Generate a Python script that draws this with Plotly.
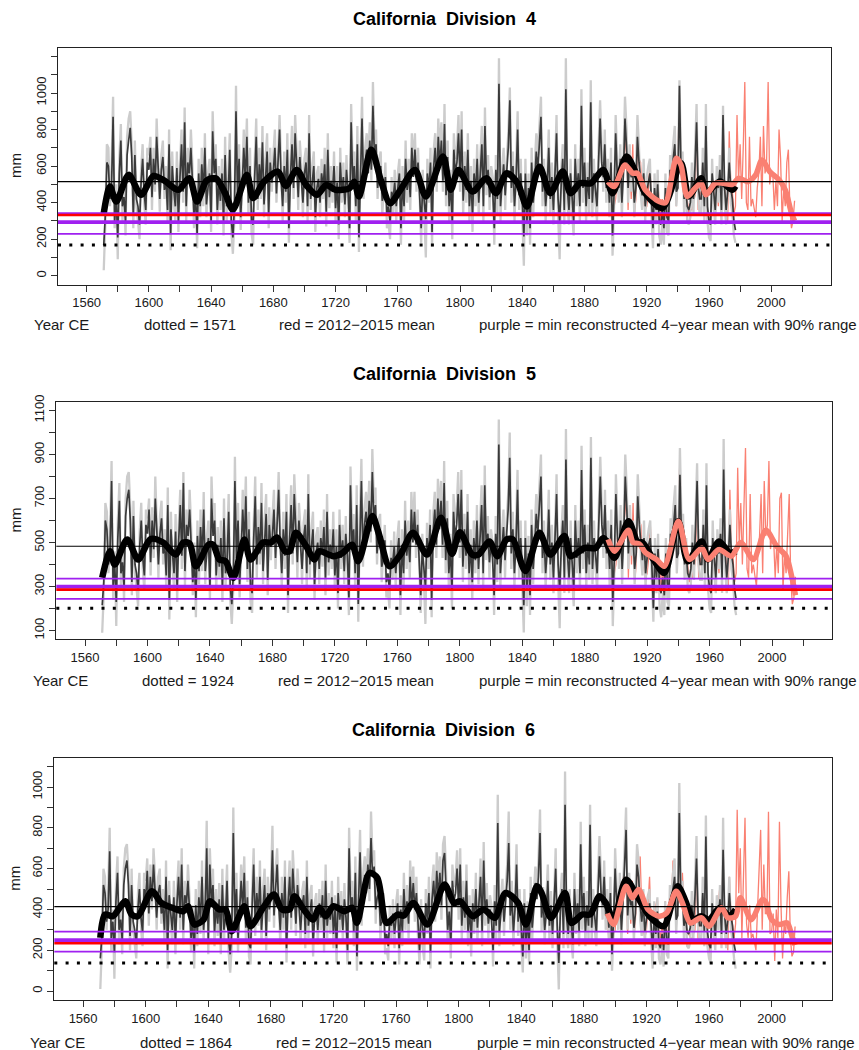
import plotly.graph_objects as go

W, H = 859, 1050

# ---------------------------------------------------------------- years
RECON_YEARS = list(range(1571, 1978))   # tree-ring reconstruction
INSTR_YEARS = list(range(1895, 2016))   # instrumental record

# ---------------------------------------------------------------- Division 4
div4_recon = [
    168, 330, 620, 600, 420, 480, 870, 300, 420, 210,
    560, 740, 380, 430, 300, 660, 740, 810, 650, 330,
    660, 420, 380, 280, 510, 640, 450, 360, 620, 580,
    700, 430, 640, 500, 760, 560, 420, 580, 650, 470,
    520, 360, 720, 230, 600, 470, 380, 590, 300, 540,
    720, 460, 840, 380, 620, 560, 700, 520, 330, 440,
    230, 560, 380, 610, 450, 700, 390, 480, 560, 300,
    790, 560, 640, 360, 520, 410, 560, 300, 660, 380,
    450, 690, 300, 210, 380, 900, 450, 640, 320, 500,
    700, 520, 760, 400, 600, 300, 280, 540, 760, 420,
    610, 480, 730, 390, 560, 680, 340, 620, 510, 570,
    700, 450, 620, 800, 520, 380, 600, 460, 690, 260,
    540, 720, 480, 780, 600, 430, 650, 520, 400, 560,
    620, 380, 780, 420, 520, 600, 320, 480, 530, 400,
    560, 480, 610, 350, 690, 430, 520, 460, 600, 370,
    510, 280, 620, 460, 540, 390, 580, 470, 260, 840,
    520, 600, 380, 720, 210, 560, 860, 480, 620, 690,
    560, 740, 580, 930, 640, 720, 480, 560, 600, 410,
    450, 540, 330, 380, 290, 460, 420, 510, 380, 480,
    560, 260, 520, 380, 640, 470, 560, 430, 700, 540,
    690, 520, 620, 440, 260, 500, 380, 310, 560, 470,
    620, 240, 590, 700, 520, 760, 600, 740, 520, 830,
    440, 650, 380, 500, 290, 690, 560, 620, 780, 540,
    800, 410, 600, 470, 690, 380, 520, 330, 560, 450,
    640, 400, 560, 720, 380, 820, 500, 580, 430, 520,
    460, 260, 580, 420, 1050, 380, 500, 610, 440, 560,
    700, 960, 480, 600, 380, 520, 800, 440, 560, 410,
    215, 560, 300, 480, 260, 620, 400, 520, 680, 580,
    720, 870, 460, 560, 380, 490, 700, 420, 540, 360,
    560, 780, 420, 300, 500, 640, 360, 1020, 470, 360,
    560, 420, 300, 640, 460, 560, 380, 930, 480, 620,
    380, 540, 420, 950, 400, 560, 480, 380, 620, 860,
    620, 540, 720, 480, 560, 400, 620, 220, 460, 780,
    560, 480, 640, 400, 560, 860, 700, 480, 640, 540,
    560, 400, 480, 760, 620, 540, 440, 560, 380, 460,
    520, 560, 420, 260, 480, 360, 500, 300, 280, 360,
    260, 480, 320, 300, 580, 520, 640, 720, 460, 480,
    1040, 560, 600, 420, 480, 380, 360, 400, 540, 420,
    600, 840, 500, 420, 420, 620, 380, 820, 380, 300,
    280, 560, 460, 360, 520, 480, 580, 360, 880, 480,
    360, 460, 620, 480, 420, 300, 250,
]
div4_recon_alt = [
    30, 280, 720, 700, 380, 580, 980, 260, 500, 90,
    640, 830, 300, 520, 220, 760, 860, 900, 720, 260,
    740, 380, 300, 200, 580, 720, 400, 280, 700, 660,
    760, 360, 700, 460, 860, 640, 350, 660, 740, 420,
    600, 300, 800, 140, 680, 420, 300, 680, 240, 620,
    800, 400, 920, 300, 700, 500, 800, 600, 260, 520,
    150, 640, 320, 700, 380, 780, 320, 560, 640, 240,
    900, 620, 720, 280, 600, 360, 640, 220, 760, 300,
    520, 780, 240, 120, 320, 1040, 400, 720, 250, 580,
    800, 600, 860, 330, 700, 230, 170, 620, 860, 360,
    700, 420, 820, 320, 640, 780, 260, 700, 460, 660,
    800, 400, 700, 880, 600, 300, 680, 400, 780, 180,
    620, 820, 420, 880, 680, 360, 740, 600, 320, 640,
    700, 300, 880, 360, 600, 680, 240, 560, 600, 320,
    640, 420, 700, 270, 780, 370, 600, 400, 680, 290,
    600, 200, 700, 400, 620, 320, 660, 420, 180, 940,
    600, 680, 300, 820, 130, 640, 980, 420, 700, 780,
    640, 840, 520, 1060, 720, 800, 420, 640, 680, 330,
    520, 620, 260, 300, 200, 540, 340, 580, 300, 560,
    640, 170, 600, 300, 740, 400, 640, 360, 780, 620,
    780, 460, 700, 360, 180, 580, 300, 100, 640, 400,
    700, 160, 680, 780, 460, 860, 680, 840, 460, 940,
    380, 740, 300, 580, 200, 780, 640, 700, 880, 460,
    900, 330, 680, 400, 780, 300, 600, 240, 640, 380,
    720, 330, 640, 820, 300, 920, 440, 660, 360, 600,
    540, 170, 660, 340, 1190, 300, 580, 700, 360, 640,
    780, 1030, 400, 680, 300, 600, 900, 360, 640, 330,
    55, 640, 220, 560, 170, 700, 320, 600, 780, 660,
    800, 980, 380, 640, 300, 560, 800, 340, 620, 280,
    640, 880, 340, 90, 580, 720, 280, 1190, 400, 280,
    640, 340, 220, 720, 380, 640, 300, 1020, 400, 700,
    300, 620, 340, 1070, 320, 640, 400, 300, 700, 960,
    700, 460, 800, 400, 640, 320, 700, 110, 380, 880,
    640, 400, 720, 320, 640, 980, 800, 400, 720, 460,
    640, 320, 560, 880, 700, 460, 360, 640, 300, 540,
    600, 640, 340, 150, 560, 280, 580, 220, 170, 280,
    170, 560, 240, 220, 660, 600, 720, 820, 380, 560,
    1070, 640, 680, 340, 560, 300, 280, 320, 620, 340,
    680, 940, 420, 340, 340, 700, 300, 940, 300, 210,
    190, 640, 380, 280, 600, 400, 660, 280, 930, 400,
    280, 540, 700, 400, 340, 220, 180,
]
div4_instr = [
    560, 380, 600, 260, 380, 420,
    560, 430, 480, 500, 620, 700, 760, 360, 680, 420,
    720, 340, 420, 700, 640, 620, 440, 400, 360, 380,
    460, 620, 400, 240, 440, 460, 520, 380, 300, 420,
    280, 480, 330, 360, 520, 500, 700, 760, 380, 640,
    1000, 600, 560, 500, 460, 420, 340, 360, 360, 400,
    440, 800, 360, 460, 430, 640, 400, 780, 300, 320,
    280, 540, 480, 330, 520, 380, 620, 360, 860, 480,
    420, 300, 790, 500, 460, 340, 380, 880, 520, 720,
    420, 700, 1060, 400, 360, 760, 380, 420, 360, 320,
    480, 560, 760, 380, 820, 560, 620, 1060, 500, 560,
    560, 360, 520, 380, 800, 640, 300, 480, 380, 620,
    690, 360, 260, 300, 410,
]
div4_smooth_years = [
    1571, 1575, 1579, 1587, 1595, 1603, 1610, 1619, 1626, 1631, 1637, 1643,
    1649, 1654, 1663, 1667, 1674, 1683, 1688, 1695, 1701, 1708, 1714, 1720,
    1729, 1732, 1735, 1743, 1749, 1755, 1761, 1771, 1778, 1789, 1794, 1799,
    1808, 1817, 1823, 1830, 1837, 1843, 1851, 1858, 1866, 1871, 1877, 1884,
    1892, 1898, 1907, 1914, 1919, 1930, 1942, 1947, 1955, 1958, 1967, 1975,
    1977,
]
div4_smooth_vals = [
    342, 488, 406, 552, 443, 546, 520, 470, 534, 406, 520, 534,
    452, 361, 552, 425, 515, 570, 492, 579, 497, 443, 497, 470,
    479, 515, 434, 689, 525, 397, 461, 579, 434, 652, 470, 579,
    461, 534, 452, 561, 506, 379, 597, 452, 570, 452, 506, 506,
    579, 452, 652, 543, 452, 370, 616, 434, 534, 452, 516, 470,
    490,
]
div4_instr_smooth_years = [
    1895, 1899, 1906, 1911, 1914, 1919, 1928, 1932, 1939, 1942, 1946, 1951,
    1955, 1958, 1964, 1969, 1975, 1979, 1985, 1990, 1994, 1999, 2005, 2009,
    2013, 2015,
]
div4_instr_smooth_vals = [
    515, 488, 606, 561, 561, 470, 406, 400, 643, 606, 434, 479,
    506, 443, 506, 506, 500, 534, 515, 552, 634, 570, 525, 470,
    342, 300,
]
div4_mean = 515
div4_purple = 293
div4_purple_lo = 229
div4_purple_hi = 343

# ---------------------------------------------------------------- Division 5
div5_recon = [
    215, 320, 600, 560, 400, 460, 780, 300, 400, 230,
    520, 690, 360, 410, 300, 620, 700, 740, 600, 320,
    620, 400, 360, 280, 480, 600, 430, 350, 580, 540,
    650, 410, 600, 470, 700, 530, 400, 540, 610, 450,
    490, 350, 670, 240, 560, 450, 360, 550, 290, 510,
    670, 440, 770, 370, 580, 530, 650, 490, 320, 420,
    240, 530, 370, 570, 430, 650, 370, 450, 520, 300,
    700, 530, 600, 350, 490, 390, 520, 300, 610, 360,
    430, 640, 300, 220, 360, 780, 430, 600, 310, 470,
    650, 490, 710, 380, 560, 300, 270, 510, 710, 400,
    570, 450, 680, 370, 530, 630, 330, 580, 480, 530,
    650, 430, 580, 740, 490, 360, 560, 440, 640, 260,
    510, 670, 450, 720, 560, 410, 600, 490, 380, 520,
    580, 360, 720, 400, 490, 560, 310, 450, 500, 380,
    520, 450, 570, 340, 640, 410, 490, 440, 560, 350,
    480, 270, 580, 430, 510, 370, 540, 440, 250, 760,
    490, 560, 360, 670, 220, 530, 780, 450, 580, 640,
    530, 690, 550, 820, 600, 670, 450, 530, 560, 390,
    420, 510, 320, 360, 280, 430, 400, 480, 360, 450,
    520, 260, 490, 360, 600, 440, 520, 410, 650, 500,
    640, 490, 580, 420, 260, 470, 360, 300, 520, 440,
    580, 240, 550, 650, 490, 700, 560, 690, 490, 770,
    420, 610, 360, 470, 280, 640, 520, 580, 720, 500,
    740, 390, 560, 440, 640, 360, 490, 320, 520, 420,
    600, 380, 520, 670, 360, 760, 470, 540, 410, 490,
    430, 260, 540, 400, 945, 360, 470, 570, 420, 520,
    650, 885, 450, 560, 360, 490, 740, 420, 520, 390,
    215, 520, 290, 450, 260, 580, 380, 490, 630, 540,
    670, 800, 430, 520, 360, 460, 650, 400, 500, 340,
    520, 720, 400, 290, 470, 600, 340, 877, 440, 340,
    520, 400, 290, 600, 430, 520, 360, 830, 450, 580,
    360, 500, 400, 885, 380, 520, 450, 360, 580, 800,
    580, 500, 670, 450, 520, 380, 580, 230, 430, 720,
    520, 450, 600, 380, 520, 800, 650, 450, 600, 500,
    520, 380, 450, 710, 580, 500, 420, 520, 360, 430,
    490, 520, 400, 201, 450, 340, 470, 290, 270, 340,
    260, 450, 310, 290, 540, 490, 600, 670, 430, 450,
    808, 520, 560, 400, 450, 360, 340, 380, 500, 400,
    560, 780, 470, 400, 400, 580, 360, 760, 360, 290,
    270, 520, 430, 340, 490, 450, 540, 340, 832, 450,
    340, 430, 580, 450, 400, 290, 240,
]
div5_recon_alt = [
    90, 270, 680, 640, 360, 540, 870, 240, 460, 120,
    600, 770, 290, 490, 230, 700, 800, 820, 660, 260,
    690, 360, 290, 210, 550, 680, 380, 280, 650, 610,
    700, 350, 660, 430, 800, 600, 340, 620, 690, 400,
    560, 290, 750, 150, 640, 400, 290, 630, 230, 580,
    740, 380, 820, 300, 650, 480, 740, 560, 260, 500,
    160, 600, 310, 650, 370, 730, 310, 520, 600, 240,
    800, 590, 680, 280, 570, 340, 600, 230, 700, 290,
    500, 720, 240, 130, 300, 890, 380, 680, 250, 550,
    740, 560, 800, 320, 640, 230, 180, 580, 800, 340,
    650, 400, 770, 310, 600, 720, 260, 660, 420, 610,
    740, 380, 660, 820, 560, 290, 640, 380, 720, 180,
    580, 760, 400, 810, 640, 340, 680, 560, 310, 590,
    650, 290, 810, 340, 560, 640, 240, 530, 570, 310,
    600, 390, 650, 260, 720, 350, 560, 380, 640, 280,
    560, 200, 650, 380, 580, 310, 620, 390, 170, 845,
    560, 630, 290, 760, 140, 600, 880, 390, 650, 730,
    600, 780, 500, 925, 680, 750, 400, 600, 630, 320,
    490, 580, 250, 290, 200, 510, 330, 550, 290, 520,
    600, 170, 560, 290, 690, 380, 600, 340, 730, 570,
    730, 430, 650, 350, 180, 540, 290, 130, 590, 380,
    650, 160, 630, 730, 430, 790, 630, 780, 430, 870,
    360, 690, 290, 540, 200, 720, 590, 650, 820, 430,
    830, 320, 630, 380, 720, 290, 560, 240, 600, 360,
    670, 310, 600, 760, 290, 850, 420, 620, 340, 560,
    500, 170, 620, 320, 1059, 290, 540, 650, 340, 600,
    720, 1000, 380, 640, 290, 560, 830, 340, 600, 310,
    91, 600, 210, 530, 170, 650, 310, 560, 720, 610,
    740, 900, 360, 600, 290, 530, 740, 330, 580, 270,
    600, 810, 330, 110, 540, 670, 270, 1016, 380, 270,
    600, 330, 210, 670, 360, 600, 290, 940, 380, 650,
    290, 580, 330, 980, 310, 600, 380, 290, 650, 890,
    650, 430, 740, 380, 600, 300, 650, 120, 360, 810,
    600, 380, 670, 310, 600, 900, 740, 380, 670, 440,
    600, 310, 530, 810, 650, 440, 350, 600, 290, 510,
    560, 600, 330, 140, 520, 270, 540, 210, 160, 270,
    170, 520, 230, 210, 610, 560, 670, 760, 360, 530,
    930, 600, 630, 330, 520, 290, 270, 310, 580, 330,
    630, 860, 400, 330, 330, 650, 290, 860, 290, 200,
    180, 600, 360, 270, 560, 380, 610, 270, 970, 380,
    270, 510, 650, 380, 330, 210, 170,
]
div5_instr = [
    520, 360, 560, 250, 360, 400,
    520, 410, 450, 470, 580, 660, 720, 340, 640, 400,
    680, 320, 400, 660, 600, 580, 420, 380, 340, 360,
    430, 590, 380, 220, 420, 430, 490, 360, 290, 400,
    270, 450, 310, 340, 490, 470, 660, 720, 360, 600,
    900, 570, 530, 470, 430, 400, 320, 340, 340, 380,
    420, 760, 340, 430, 400, 600, 380, 740, 290, 300,
    270, 510, 450, 310, 490, 360, 580, 340, 800, 450,
    400, 290, 740, 470, 430, 320, 360, 840, 490, 680,
    400, 660, 930, 380, 340, 720, 360, 400, 340, 300,
    450, 530, 720, 360, 780, 530, 580, 870, 470, 530,
    520, 340, 490, 360, 700, 726, 280, 450, 360, 580,
    720, 330, 220, 250, 344,
]
div5_smooth_years = [
    1571, 1576, 1579, 1587, 1594, 1602, 1610, 1618, 1623, 1627, 1631, 1639,
    1642, 1646, 1650, 1655, 1662, 1666, 1674, 1679, 1683, 1688, 1691, 1695,
    1701, 1707, 1710, 1719, 1725, 1731, 1735, 1744, 1748, 1755, 1762, 1770,
    1779, 1788, 1795, 1800, 1808, 1812, 1819, 1824, 1830, 1834, 1842, 1851,
    1858, 1867, 1871, 1880, 1887, 1892, 1899, 1908, 1914, 1917, 1924, 1931,
    1940, 1946, 1955, 1959, 1966, 1973, 1977,
]
div5_smooth_vals = [
    340, 460, 400, 514, 423, 516, 500, 445, 500, 495, 392, 490,
    490, 423, 415, 339, 514, 423, 500, 500, 523, 460, 460, 544,
    490, 423, 460, 438, 453, 490, 415, 620, 544, 392, 445, 544,
    445, 612, 448, 547, 445, 445, 505, 438, 514, 514, 370, 544,
    445, 530, 438, 475, 475, 520, 430, 597, 500, 500, 423, 362,
    597, 415, 505, 423, 505, 453, 460,
]
div5_instr_smooth_years = [
    1895, 1899, 1908, 1911, 1915, 1919, 1926, 1931, 1940, 1947, 1955, 1959,
    1966, 1974, 1980, 1988, 1996, 2003, 2009, 2013, 2015,
]
div5_instr_smooth_vals = [
    514, 460, 556, 500, 493, 453, 423, 392, 597, 423, 475, 423,
    468, 438, 500, 423, 556, 483, 438, 332, 260,
]
div5_mean = 483
div5_purple = 299
div5_purple_lo = 244
div5_purple_hi = 336

# ---------------------------------------------------------------- Division 6
div6_recon = [
    160, 270, 520, 480, 340, 400, 685, 260, 340, 190,
    440, 580, 300, 350, 250, 520, 600, 640, 520, 270,
    520, 340, 300, 230, 400, 500, 360, 290, 500, 460,
    590, 380, 560, 440, 620, 500, 360, 480, 520, 380,
    420, 300, 560, 200, 470, 380, 300, 460, 240, 430,
    560, 360, 620, 300, 470, 430, 540, 400, 260, 340,
    190, 420, 280, 460, 340, 560, 300, 400, 700, 250,
    620, 430, 520, 290, 420, 330, 450, 250, 520, 300,
    360, 540, 250, 180, 290, 775, 350, 500, 260, 390,
    540, 400, 580, 310, 460, 230, 210, 410, 620, 330,
    480, 370, 560, 300, 430, 520, 270, 480, 400, 450,
    690, 370, 500, 620, 420, 300, 480, 360, 560, 210,
    430, 560, 360, 600, 470, 330, 520, 400, 300, 420,
    470, 280, 560, 320, 400, 450, 240, 360, 410, 300,
    430, 360, 470, 260, 540, 320, 410, 350, 460, 280,
    400, 210, 480, 350, 420, 300, 450, 360, 200, 700,
    400, 460, 290, 580, 170, 430, 680, 380, 500, 570,
    480, 620, 500, 750, 560, 610, 400, 460, 480, 320,
    340, 410, 250, 280, 220, 350, 320, 380, 280, 360,
    430, 210, 400, 290, 500, 360, 440, 330, 560, 410,
    530, 400, 480, 340, 200, 380, 290, 240, 430, 350,
    480, 190, 450, 540, 400, 590, 460, 580, 420, 640,
    677, 500, 300, 390, 230, 540, 440, 480, 600, 420,
    620, 320, 460, 360, 540, 290, 400, 250, 430, 340,
    500, 310, 430, 560, 290, 640, 380, 450, 330, 400,
    350, 200, 440, 320, 824, 290, 380, 470, 340, 430,
    540, 726, 370, 460, 290, 400, 620, 340, 430, 310,
    170, 430, 230, 370, 200, 480, 310, 400, 530, 450,
    560, 775, 360, 440, 300, 380, 540, 320, 420, 280,
    430, 600, 320, 137, 390, 500, 280, 913, 360, 280,
    430, 320, 230, 500, 350, 430, 290, 720, 370, 480,
    290, 420, 320, 815, 310, 430, 370, 290, 480, 660,
    480, 420, 560, 370, 430, 310, 480, 180, 350, 600,
    430, 370, 500, 300, 430, 660, 790, 370, 500, 420,
    440, 310, 380, 620, 560, 420, 340, 430, 290, 350,
    400, 430, 320, 200, 370, 280, 390, 230, 210, 280,
    200, 370, 250, 230, 450, 400, 500, 560, 350, 370,
    873, 440, 470, 320, 370, 290, 280, 310, 420, 320,
    460, 650, 380, 320, 320, 480, 290, 758, 290, 230,
    210, 430, 350, 270, 400, 370, 450, 280, 693, 370,
    280, 350, 480, 370, 320, 230, 190,
]
div6_recon_alt = [
    10, 220, 600, 560, 300, 480, 800, 190, 400, 60,
    520, 660, 230, 420, 180, 600, 700, 720, 580, 200,
    600, 300, 230, 160, 470, 580, 310, 220, 580, 540,
    650, 320, 620, 400, 700, 560, 300, 560, 600, 330,
    500, 230, 640, 110, 540, 330, 230, 540, 180, 500,
    640, 300, 700, 230, 540, 380, 620, 460, 190, 420,
    110, 500, 220, 540, 280, 640, 240, 460, 835, 180,
    700, 490, 600, 220, 500, 270, 530, 180, 600, 230,
    430, 620, 190, 90, 220, 900, 300, 580, 190, 460,
    620, 460, 660, 250, 540, 170, 130, 480, 700, 270,
    560, 320, 640, 230, 500, 600, 200, 560, 340, 520,
    810, 310, 580, 700, 480, 230, 560, 300, 640, 140,
    500, 640, 300, 690, 540, 270, 600, 470, 230, 490,
    540, 210, 640, 260, 470, 520, 170, 430, 480, 230,
    500, 300, 540, 190, 620, 260, 480, 280, 540, 210,
    470, 140, 560, 290, 490, 240, 530, 300, 130, 800,
    470, 540, 220, 660, 100, 500, 790, 320, 580, 660,
    550, 700, 440, 880, 640, 690, 330, 540, 560, 250,
    410, 480, 180, 210, 150, 420, 250, 450, 210, 430,
    500, 130, 470, 220, 580, 300, 520, 260, 640, 480,
    610, 340, 560, 270, 130, 450, 220, 150, 500, 280,
    560, 110, 530, 620, 340, 680, 540, 660, 350, 720,
    760, 580, 230, 460, 160, 620, 510, 550, 690, 350,
    700, 250, 540, 300, 620, 220, 470, 170, 500, 280,
    580, 240, 500, 650, 220, 730, 320, 530, 260, 470,
    420, 120, 520, 250, 962, 220, 450, 550, 270, 500,
    620, 880, 300, 540, 220, 470, 720, 270, 500, 240,
    91, 500, 160, 440, 130, 560, 240, 470, 610, 520,
    640, 890, 290, 510, 230, 450, 620, 250, 490, 210,
    500, 700, 250, 8, 460, 580, 210, 1076, 290, 210,
    500, 250, 160, 580, 280, 500, 220, 830, 300, 560,
    220, 490, 250, 913, 240, 500, 300, 220, 560, 760,
    560, 350, 640, 300, 500, 240, 560, 100, 280, 700,
    500, 300, 580, 230, 500, 760, 900, 300, 580, 350,
    510, 240, 450, 720, 640, 350, 270, 500, 220, 420,
    470, 500, 250, 110, 440, 210, 460, 160, 130, 210,
    120, 440, 180, 160, 520, 470, 580, 650, 280, 440,
    1020, 510, 540, 250, 440, 220, 210, 240, 490, 250,
    530, 760, 310, 250, 250, 560, 220, 860, 220, 160,
    140, 500, 280, 200, 470, 300, 520, 210, 850, 300,
    210, 420, 560, 300, 250, 160, 110,
]
div6_instr = [
    380, 240, 420, 160, 280, 300,
    420, 320, 450, 300, 560, 520, 560, 280, 520, 330,
    540, 260, 350, 600, 560, 660, 400, 300, 260, 300,
    420, 560, 310, 170, 330, 420, 450, 300, 260, 330,
    250, 440, 280, 300, 480, 420, 640, 620, 330, 420,
    820, 420, 580, 360, 350, 300, 280, 260, 250, 280,
    300, 620, 250, 380, 320, 380, 330, 600, 220, 230,
    160, 400, 330, 240, 380, 420, 520, 300, 720, 380,
    330, 200, 560, 380, 330, 260, 330, 889, 480, 700,
    260, 520, 850, 330, 260, 420, 260, 280, 240, 200,
    400, 560, 790, 300, 620, 380, 380, 879, 280, 290,
    380, 147, 400, 260, 830, 420, 160, 330, 280, 460,
    587, 260, 170, 190, 316,
]
div6_smooth_years = [
    1571, 1574, 1579, 1587, 1591, 1595, 1604, 1610, 1617, 1624, 1627, 1631,
    1637, 1641, 1647, 1651, 1655, 1663, 1667, 1675, 1682, 1687, 1692, 1695,
    1701, 1707, 1711, 1715, 1720, 1727, 1732, 1735, 1743, 1748, 1754, 1761,
    1765, 1771, 1780, 1791, 1797, 1801, 1809, 1816, 1823, 1830, 1838, 1843,
    1850, 1853, 1859, 1868, 1872, 1879, 1884, 1890, 1894, 1899, 1907, 1913,
    1922, 1931, 1940, 1945, 1950, 1955, 1960, 1967, 1973, 1977,
]
div6_smooth_vals = [
    261, 375, 367, 440, 375, 367, 489, 432, 408, 391, 416, 326,
    350, 440, 400, 400, 293, 416, 318, 408, 473, 400, 400, 465,
    400, 350, 408, 367, 416, 391, 408, 334, 579, 555, 334, 375,
    370, 432, 326, 522, 432, 440, 367, 400, 359, 481, 432, 326,
    514, 481, 359, 481, 334, 375, 375, 465, 432, 350, 546, 481,
    367, 318, 514, 440, 350, 367, 350, 408, 367, 400,
]
div6_instr_smooth_years = [
    1895, 1899, 1907, 1911, 1915, 1921, 1928, 1933, 1939, 1943, 1948, 1955,
    1960, 1968, 1972, 1977, 1980, 1987, 1994, 1996, 2000, 2005, 2010, 2013,
    2015,
]
div6_instr_smooth_vals = [
    380, 326, 514, 457, 498, 400, 367, 383, 489, 432, 334, 359,
    318, 408, 359, 367, 457, 350, 449, 440, 350, 326, 334, 269,
    225,
]
div6_mean = 414
div6_purple = 250
div6_purple_lo = 193
div6_purple_hi = 291

# ---------------------------------------------------------------- styling
FONT = "Liberation Sans, Arial, Helvetica, sans-serif"
SALMON = "#FA8072"
PURPLE = "#A020F0"
RED = "#FF0000"
LIGHT = "#cccccc"
DARK = "#3a3a3a"
TXT = "#1a1a1a"

# pixel frames of the three plotting regions: (left, right, top, bottom)
panels = [
    dict(name="California\u00a0 Division\u00a0 4",
         recon=div4_recon, alt=div4_recon_alt, instr=div4_instr,
         sy=div4_smooth_years, sv=div4_smooth_vals,
         iy=div4_instr_smooth_years, iv=div4_instr_smooth_vals,
         mean=div4_mean, purple=div4_purple,
         plo=div4_purple_lo, phi=div4_purple_hi,
         frame=(58, 831, 47.7, 284.5), ylim=(0, 1200),
         ticks=(0, 1200), labels=(0, 1000),
         title_y=19, text_y=324.5, text_x=(31.7, 141.7, 276.7, 476.7)),
    dict(name="California\u00a0 Division\u00a0 5",
         recon=div5_recon, alt=div5_recon_alt, instr=div5_instr,
         sy=div5_smooth_years, sv=div5_smooth_vals,
         iy=div5_instr_smooth_years, iv=div5_instr_smooth_vals,
         mean=div5_mean, purple=div5_purple,
         plo=div5_purple_lo, phi=div5_purple_hi,
         frame=(56.3, 832, 401.7, 639.3), ylim=(100, 1100),
         ticks=(100, 1100), labels=(100, 1100),
         title_y=374, text_y=680.5, text_x=(30.7, 140, 276, 476.7)),
    dict(name="California\u00a0 Division\u00a0 6",
         recon=div6_recon, alt=div6_recon_alt, instr=div6_instr,
         sy=div6_smooth_years, sv=div6_smooth_vals,
         iy=div6_instr_smooth_years, iv=div6_instr_smooth_vals,
         mean=div6_mean, purple=div6_purple,
         plo=div6_purple_lo, phi=div6_purple_hi,
         frame=(54.3, 831.7, 757.7, 1000), ylim=(0, 1100),
         ticks=(0, 1100), labels=(0, 1000),
         title_y=729.5, text_y=1042, text_x=(28.3, 138.3, 274.3, 475)),
]

XLIM = (1560, 2020)
XPAD = 0.04 * (XLIM[1] - XLIM[0])
xticks = list(range(1560, 2021, 20))
xlabels = [str(t) if (t - 1560) % 40 == 0 else "" for t in xticks]

fig = go.Figure()
shapes, annotations = [], []
layout_axes = {}

for i, p in enumerate(panels, start=1):
    assert len(p["recon"]) == len(RECON_YEARS)
    assert len(p["alt"]) == len(RECON_YEARS)
    assert len(p["instr"]) == len(INSTR_YEARS)
    suffix = "" if i == 1 else str(i)
    xa, ya = "x" + suffix, "y" + suffix
    xk, yk = "xaxis" + suffix, "yaxis" + suffix

    # annual instrumental record (underneath the reconstruction)
    fig.add_trace(go.Scatter(x=INSTR_YEARS, y=p["instr"], mode="lines",
                             line=dict(color=SALMON, width=1.3),
                             xaxis=xa, yaxis=ya, hoverinfo="skip"))
    fig.add_trace(go.Scatter(x=RECON_YEARS, y=p["alt"], mode="lines",
                             line=dict(color=LIGHT, width=2.3),
                             xaxis=xa, yaxis=ya, hoverinfo="skip"))
    fig.add_trace(go.Scatter(x=RECON_YEARS, y=p["recon"], mode="lines",
                             line=dict(color=DARK, width=1.7),
                             xaxis=xa, yaxis=ya, hoverinfo="skip"))
    fig.add_trace(go.Scatter(x=p["sy"], y=p["sv"], mode="lines",
                             line=dict(color="black", width=6.5, shape="spline",
                                       smoothing=0.8),
                             xaxis=xa, yaxis=ya, hoverinfo="skip"))
    fig.add_trace(go.Scatter(x=p["iy"], y=p["iv"], mode="lines",
                             line=dict(color=SALMON, width=5.5, shape="spline",
                                       smoothing=0.8),
                             xaxis=xa, yaxis=ya, hoverinfo="skip"))

    # reference levels
    lo_idx = min(range(len(p["recon"])), key=lambda k: p["recon"][k])
    dotted_val = p["recon"][lo_idx]
    dotted_year = RECON_YEARS[lo_idx]
    recent = [v for yr, v in zip(INSTR_YEARS, p["instr"]) if 2012 <= yr <= 2015]
    red_val = sum(recent) / len(recent)

    def hline(y, color, width, dash="solid"):
        shapes.append(dict(type="line", xref=f"{xa} domain", yref=ya,
                           x0=0, x1=1, y0=y, y1=y, layer="above",
                           line=dict(color=color, width=width, dash=dash)))

    hline(p["purple"], PURPLE, 3.8)
    hline(p["plo"], PURPLE, 1.8)
    hline(p["phi"], PURPLE, 1.8)
    hline(red_val, RED, 2.6)
    hline(p["mean"], "black", 1.1)
    hline(dotted_val, "black", 3, dash="3px,8.3px")

    left, right, top, bottom = p["frame"]
    ylo, yhi = p["ylim"]
    ypad = 0.04 * (yhi - ylo)
    yt = list(range(p["ticks"][0], p["ticks"][1] + 1, 100))
    ylab = [str(t) if (p["labels"][0] <= t <= p["labels"][1]
                       and (t - p["labels"][0]) % 200 == 0) else "" for t in yt]

    layout_axes[xk] = dict(
        domain=[left / W, right / W], anchor=ya,
        range=[XLIM[0] - XPAD, XLIM[1] + XPAD],
        tickmode="array", tickvals=xticks, ticktext=xlabels,
        ticks="outside", ticklen=6, tickwidth=1, tickcolor="#333",
        showline=True, mirror=True, linecolor="#222", linewidth=1.3,
        showgrid=False, zeroline=False, automargin=False,
        tickfont=dict(family=FONT, size=13, color=TXT))
    layout_axes[yk] = dict(
        domain=[1 - bottom / H, 1 - top / H], anchor=xa,
        range=[ylo - ypad, yhi + ypad],
        tickmode="array", tickvals=yt, ticktext=ylab, tickangle=-90,
        ticks="outside", ticklen=6, tickwidth=1, tickcolor="#333",
        showline=True, mirror=True, linecolor="#222", linewidth=1.3,
        showgrid=False, zeroline=False, automargin=False,
        tickfont=dict(family=FONT, size=13, color=TXT))

    # title, y label and caption line
    annotations.append(dict(text=f"<b>{p['name']}</b>", xref="paper", yref="paper",
                            x=(left + right) / 2 / W, y=1 - p["title_y"] / H,
                            xanchor="center", yanchor="middle", showarrow=False,
                            font=dict(family=FONT, size=18, color="black")))
    annotations.append(dict(text="mm", xref="paper", yref="paper",
                            x=15 / W, y=1 - (top + bottom) / 2 / H, textangle=-90,
                            xanchor="center", yanchor="middle", showarrow=False,
                            font=dict(family=FONT, size=15, color=TXT)))
    captions = ["Year CE", f"dotted = {dotted_year}", "red = 2012\u22122015 mean",
                "purple = min reconstructed 4\u2212year mean with 90% range"]
    for cx, ctext in zip(p["text_x"], captions):
        annotations.append(dict(text=ctext, xref="paper", yref="paper",
                                x=cx / W, y=1 - p["text_y"] / H,
                                xanchor="left", yanchor="middle", showarrow=False,
                                font=dict(family=FONT, size=15, color=TXT)))

fig.update_layout(
    width=W, height=H, autosize=False,
    margin=dict(l=0, r=0, t=0, b=0),
    paper_bgcolor="white", plot_bgcolor="white",
    showlegend=False, hovermode=False,
    shapes=shapes, annotations=annotations,
    **layout_axes)

fig.write_html("out.html", config={"displayModeBar": False})
